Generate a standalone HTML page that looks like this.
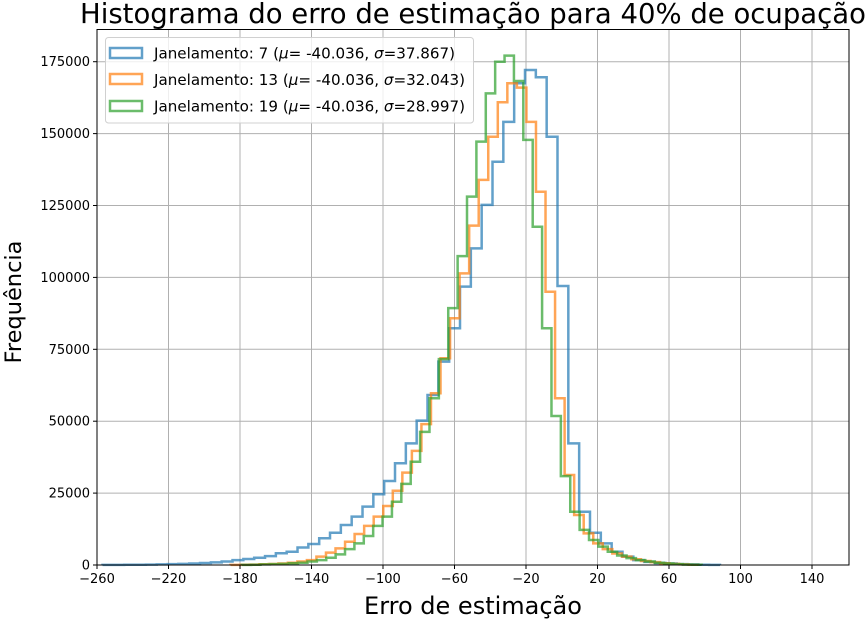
<!DOCTYPE html>
<html><head><meta charset="utf-8"><style>
body{margin:0;background:#fff;}
svg{display:block;font-family:"DejaVu Sans","Liberation Sans",sans-serif;}
</style></head><body>
<svg id="chart" width="866" height="622" xmlns="http://www.w3.org/2000/svg">
<rect width="866" height="622" fill="#fff"/>
<g id="grid"></g>
<g id="series"></g>
<rect x="97" y="29.5" width="752" height="535.5" fill="none" stroke="#000" stroke-width="1"/>
<g id="axes"></g>
<text x="473" y="23" font-size="27.5" text-anchor="middle" fill="#000">Histograma do erro de estimação para 40% de ocupação</text>
<text x="473" y="614" font-size="24" text-anchor="middle" fill="#000">Erro de estimação</text>
<text x="0" y="0" font-size="22.5" text-anchor="middle" fill="#000" transform="translate(21,302) rotate(-90)">Frequência</text>
<g>
<rect x="105.5" y="37.5" width="368" height="85.5" rx="3" fill="#fff" fill-opacity="0.8" stroke="#d0d0d0"/>
<rect x="110" y="48" width="32" height="10" fill="none" stroke="#1f77b4" stroke-opacity="0.7" stroke-width="2.5"/>
<text x="154" y="58.5" font-size="15" textLength="301" lengthAdjust="spacingAndGlyphs">Janelamento: 7 (<tspan font-style="italic">μ</tspan>= -40.036, <tspan font-style="italic">σ</tspan>=37.867)</text>
<rect x="110" y="74" width="32" height="10" fill="none" stroke="#ff7f0e" stroke-opacity="0.7" stroke-width="2.5"/>
<text x="154" y="85" font-size="15" textLength="311" lengthAdjust="spacingAndGlyphs">Janelamento: 13 (<tspan font-style="italic">μ</tspan>= -40.036, <tspan font-style="italic">σ</tspan>=32.043)</text>
<rect x="110" y="101" width="32" height="10" fill="none" stroke="#2ca02c" stroke-opacity="0.7" stroke-width="2.5"/>
<text x="154" y="111.5" font-size="15" textLength="311" lengthAdjust="spacingAndGlyphs">Janelamento: 19 (<tspan font-style="italic">μ</tspan>= -40.036, <tspan font-style="italic">σ</tspan>=28.997)</text>
</g>
</svg>
<script>
const xTicks = [-260,-220,-180,-140,-100,-60,-20,20,60,100,140];
const yTicks = [0,25000,50000,75000,100000,125000,150000,175000];
const blueStart = -256.9, blueWidth = 6.06;
const blueCounts = [40,60,80,100,150,200,300,400,500,700,900,1200,1700,2100,2500,3100,4100,4600,6100,7300,9300,11200,13900,16800,20300,24600,29200,35400,42300,50200,59100,70700,82300,96800,110100,125200,140200,154100,167500,172100,169600,148900,97000,42300,18500,11200,7500,4600,2900,1700,1100,700,500,300,200,100,50];
const orangeStart = -185.3, orangeWidth = 5.34;
const orangeCounts = [50,100,150,250,350,500,800,1200,1700,2900,4300,5800,8100,10800,13600,16800,20500,25800,32100,39700,49000,59700,71900,85800,101400,118000,133900,148900,160900,167500,166000,154100,129800,95000,58000,31300,17400,11000,7500,5500,4000,2900,2000,1400,1000,600,400,200,100];
const greenStart = -179.0, greenWidth = 5.25;
const greenCounts = [50,100,200,300,400,600,800,1200,1700,2500,3700,5500,7500,10100,13600,16800,22000,28200,35900,46300,58000,71600,89300,107400,128100,147200,164000,175000,177100,168300,147800,117600,82300,51800,30900,18500,12200,8700,6400,4600,3300,2400,1700,1200,800,500,300,150,80];

const L=97,R=849,T=29.5,B=565, XMIN=-260, XMAX=160.7, YMAX=186200;
const X=v=>L+(v-XMIN)/(XMAX-XMIN)*(R-L);
const Y=v=>B-v/YMAX*(B-T);
const NS="http://www.w3.org/2000/svg";
function mk(tag,attrs,parent){const e=document.createElementNS(NS,tag);for(const k in attrs)e.setAttribute(k,attrs[k]);parent.appendChild(e);return e;}
const grid=document.getElementById('grid'), axes=document.getElementById('axes'), ser=document.getElementById('series');
xTicks.forEach(t=>{
  const x=X(t);
  const g=mk('line',{x1:x,x2:x,y1:T,y2:B,stroke:'#b0b0b0','stroke-width':1},grid);
  
  
  const tk=mk('line',{x1:x,x2:x,y1:B,y2:B+4,stroke:'#000'},axes);
  
  
  const tx=mk('text',{x:x,y:B+18,'font-size':13,'text-anchor':'middle'},axes);
  tx.textContent=(t<0?'\u2212'+(-t):t);
  
  
});
yTicks.forEach(t=>{
  const y=Y(t);
  const g=mk('line',{x1:L,x2:R,y1:y,y2:y,stroke:'#b0b0b0','stroke-width':1},grid);
  
  
  const tk=mk('line',{x1:L-4,x2:L,y1:y,y2:y,stroke:'#000'},axes);
  
  
  const tx=mk('text',{x:L-7,y:y+4.5,'font-size':13,'text-anchor':'end'},axes);
  tx.textContent=t;
  
  
});
function drawStep(start,width,counts,color,name){
  let d='M'+X(start)+','+Y(0);
  counts.forEach((c,i)=>{
    const x0=X(start+i*width), x1=X(start+(i+1)*width), y=Y(c);
    d+=' L'+x0+','+y+' L'+x1+','+y;
  });
  d+=' L'+X(start+counts.length*width)+','+Y(0);
  const p=mk('path',{d:d,fill:'none',stroke:color,'stroke-opacity':0.7,'stroke-width':2.5,'stroke-linejoin':'miter'},ser);
  
  
}
drawStep(blueStart,blueWidth,blueCounts,'#1f77b4','hist-janelamento-7');
drawStep(orangeStart,orangeWidth,orangeCounts,'#ff7f0e','hist-janelamento-13');
drawStep(greenStart,greenWidth,greenCounts,'#2ca02c','hist-janelamento-19');
</script>
</body></html>
